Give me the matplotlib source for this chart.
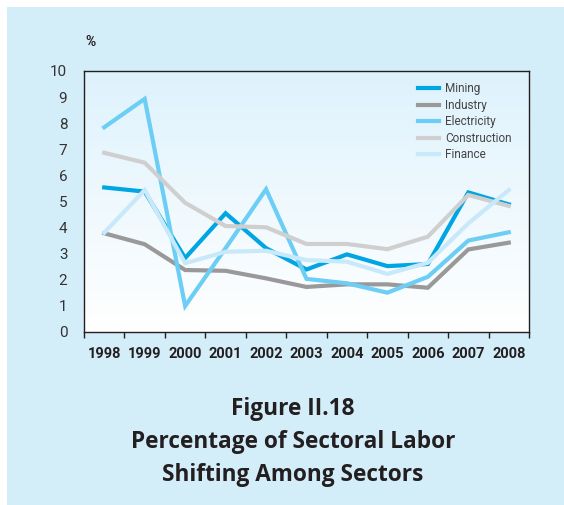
import matplotlib.pyplot as plt
import numpy as np
from matplotlib.patches import Rectangle

# 数据
years = ['1998', '1999', '2000', '2001', '2002', '2003', '2004', '2005', '2006', '2007', '2008']
mining = [5.53, 5.37, 2.82, 4.54, 3.2, 2.38, 2.96, 2.51, 2.59, 5.34, 4.88]
industry = [3.77, 3.35, 2.36, 2.33, 2.04, 1.71, 1.81, 1.81, 1.68, 3.15, 3.41]
electricity = [7.84, 8.93, 0.98, 3.2, 5.46, 2.02, 1.85, 1.49, 2.1, 3.49, 3.81]
construction = [6.86, 6.48, 4.94, 4.05, 4.0, 3.36, 3.36, 3.16, 3.64, 5.24, 4.82]
finance = [3.79, 5.43, 2.62, 3.06, 3.1, 2.74, 2.68, 2.21, 2.64, 4.15, 5.43]

series = [
    ('Mining', mining, '#00a5e3'),
    ('Industry', industry, '#999999'),
    ('Electricity', electricity, '#6dcef5'),
    ('Construction', construction, '#cfcfcf'),
    ('Finance', finance, '#c8e9f9'),
]

bg = '#d4eef9'
dark = '#231f20'

fig = plt.figure(figsize=(5.64, 5.05), dpi=100)
fig.patch.set_facecolor('white')
# 浅蓝色背景面板
fig.patches.append(Rectangle((7 / 564, 0), 1, 1 - 7 / 505, transform=fig.transFigure,
                             facecolor=bg, edgecolor='none', zorder=-10))

ax = fig.add_axes([84 / 564, 1 - 331.5 / 505, 445 / 564, 260.5 / 505])
x = np.arange(len(years))

# 渐变背景
grad = np.linspace(1, 0, 256).reshape(-1, 1)
top = np.array([0.87, 0.95, 0.99])
bottom = np.array([1.0, 1.0, 1.0])
img = bottom + (top - bottom) * grad[..., None]
ax.imshow(img, extent=(-0.5, len(years) - 0.5, 0, 10), aspect='auto', zorder=0)

for name, vals, color in series:
    ax.plot(x, vals, color=color, lw=3, label=name, zorder=3, solid_joinstyle='miter')

ax.set_xlim(-0.5, len(years) - 0.5)
ax.set_ylim(0, 10)

ax.set_xticks(np.arange(-0.5, len(years), 1))
ax.set_xticklabels([])
ax.set_xticks(x, minor=True)
ax.set_xticklabels(years, minor=True, fontsize=10.5, fontweight='bold', color=dark,
                   family=['Roboto', 'DejaVu Sans'])
ax.tick_params(axis='x', which='major', length=4, width=1, color=dark, direction='out')
ax.tick_params(axis='x', which='minor', length=0, pad=11)

ax.set_yticks(range(0, 11))
ax.set_yticklabels([str(i) for i in range(11)], fontsize=11, color='#333333',
                   family=['Roboto', 'DejaVu Sans'])
ax.tick_params(axis='y', length=0, pad=12)

for s in ax.spines.values():
    s.set_color(dark)
    s.set_linewidth(1)

leg = ax.legend(loc='upper right', bbox_to_anchor=(0.975, 0.98), frameon=False,
                prop={'family': ['Roboto', 'DejaVu Sans'], 'size': 8.5},
                handlelength=1.75, handletextpad=0.55, labelspacing=0.3, borderpad=0)
for t in leg.get_texts():
    t.set_color('#444444')

fig.text(85 / 564, 1 - 42 / 505, '%', fontsize=10, fontweight='bold', color=dark,
         ha='left', va='center', family=['Roboto', 'DejaVu Sans'])

title_kw = dict(fontsize=16.3, fontweight='bold', color=dark, ha='center', va='center',
                family=['Open Sans', 'DejaVu Sans'])
fig.text(293 / 564, 1 - 409 / 505, 'Figure II.18', **title_kw)
fig.text(293 / 564, 1 - 442 / 505, 'Percentage of Sectoral Labor', **title_kw)
fig.text(293 / 564, 1 - 475 / 505, 'Shifting Among Sectors', **title_kw)

fig.savefig('out.png', dpi=100, facecolor=fig.get_facecolor())
